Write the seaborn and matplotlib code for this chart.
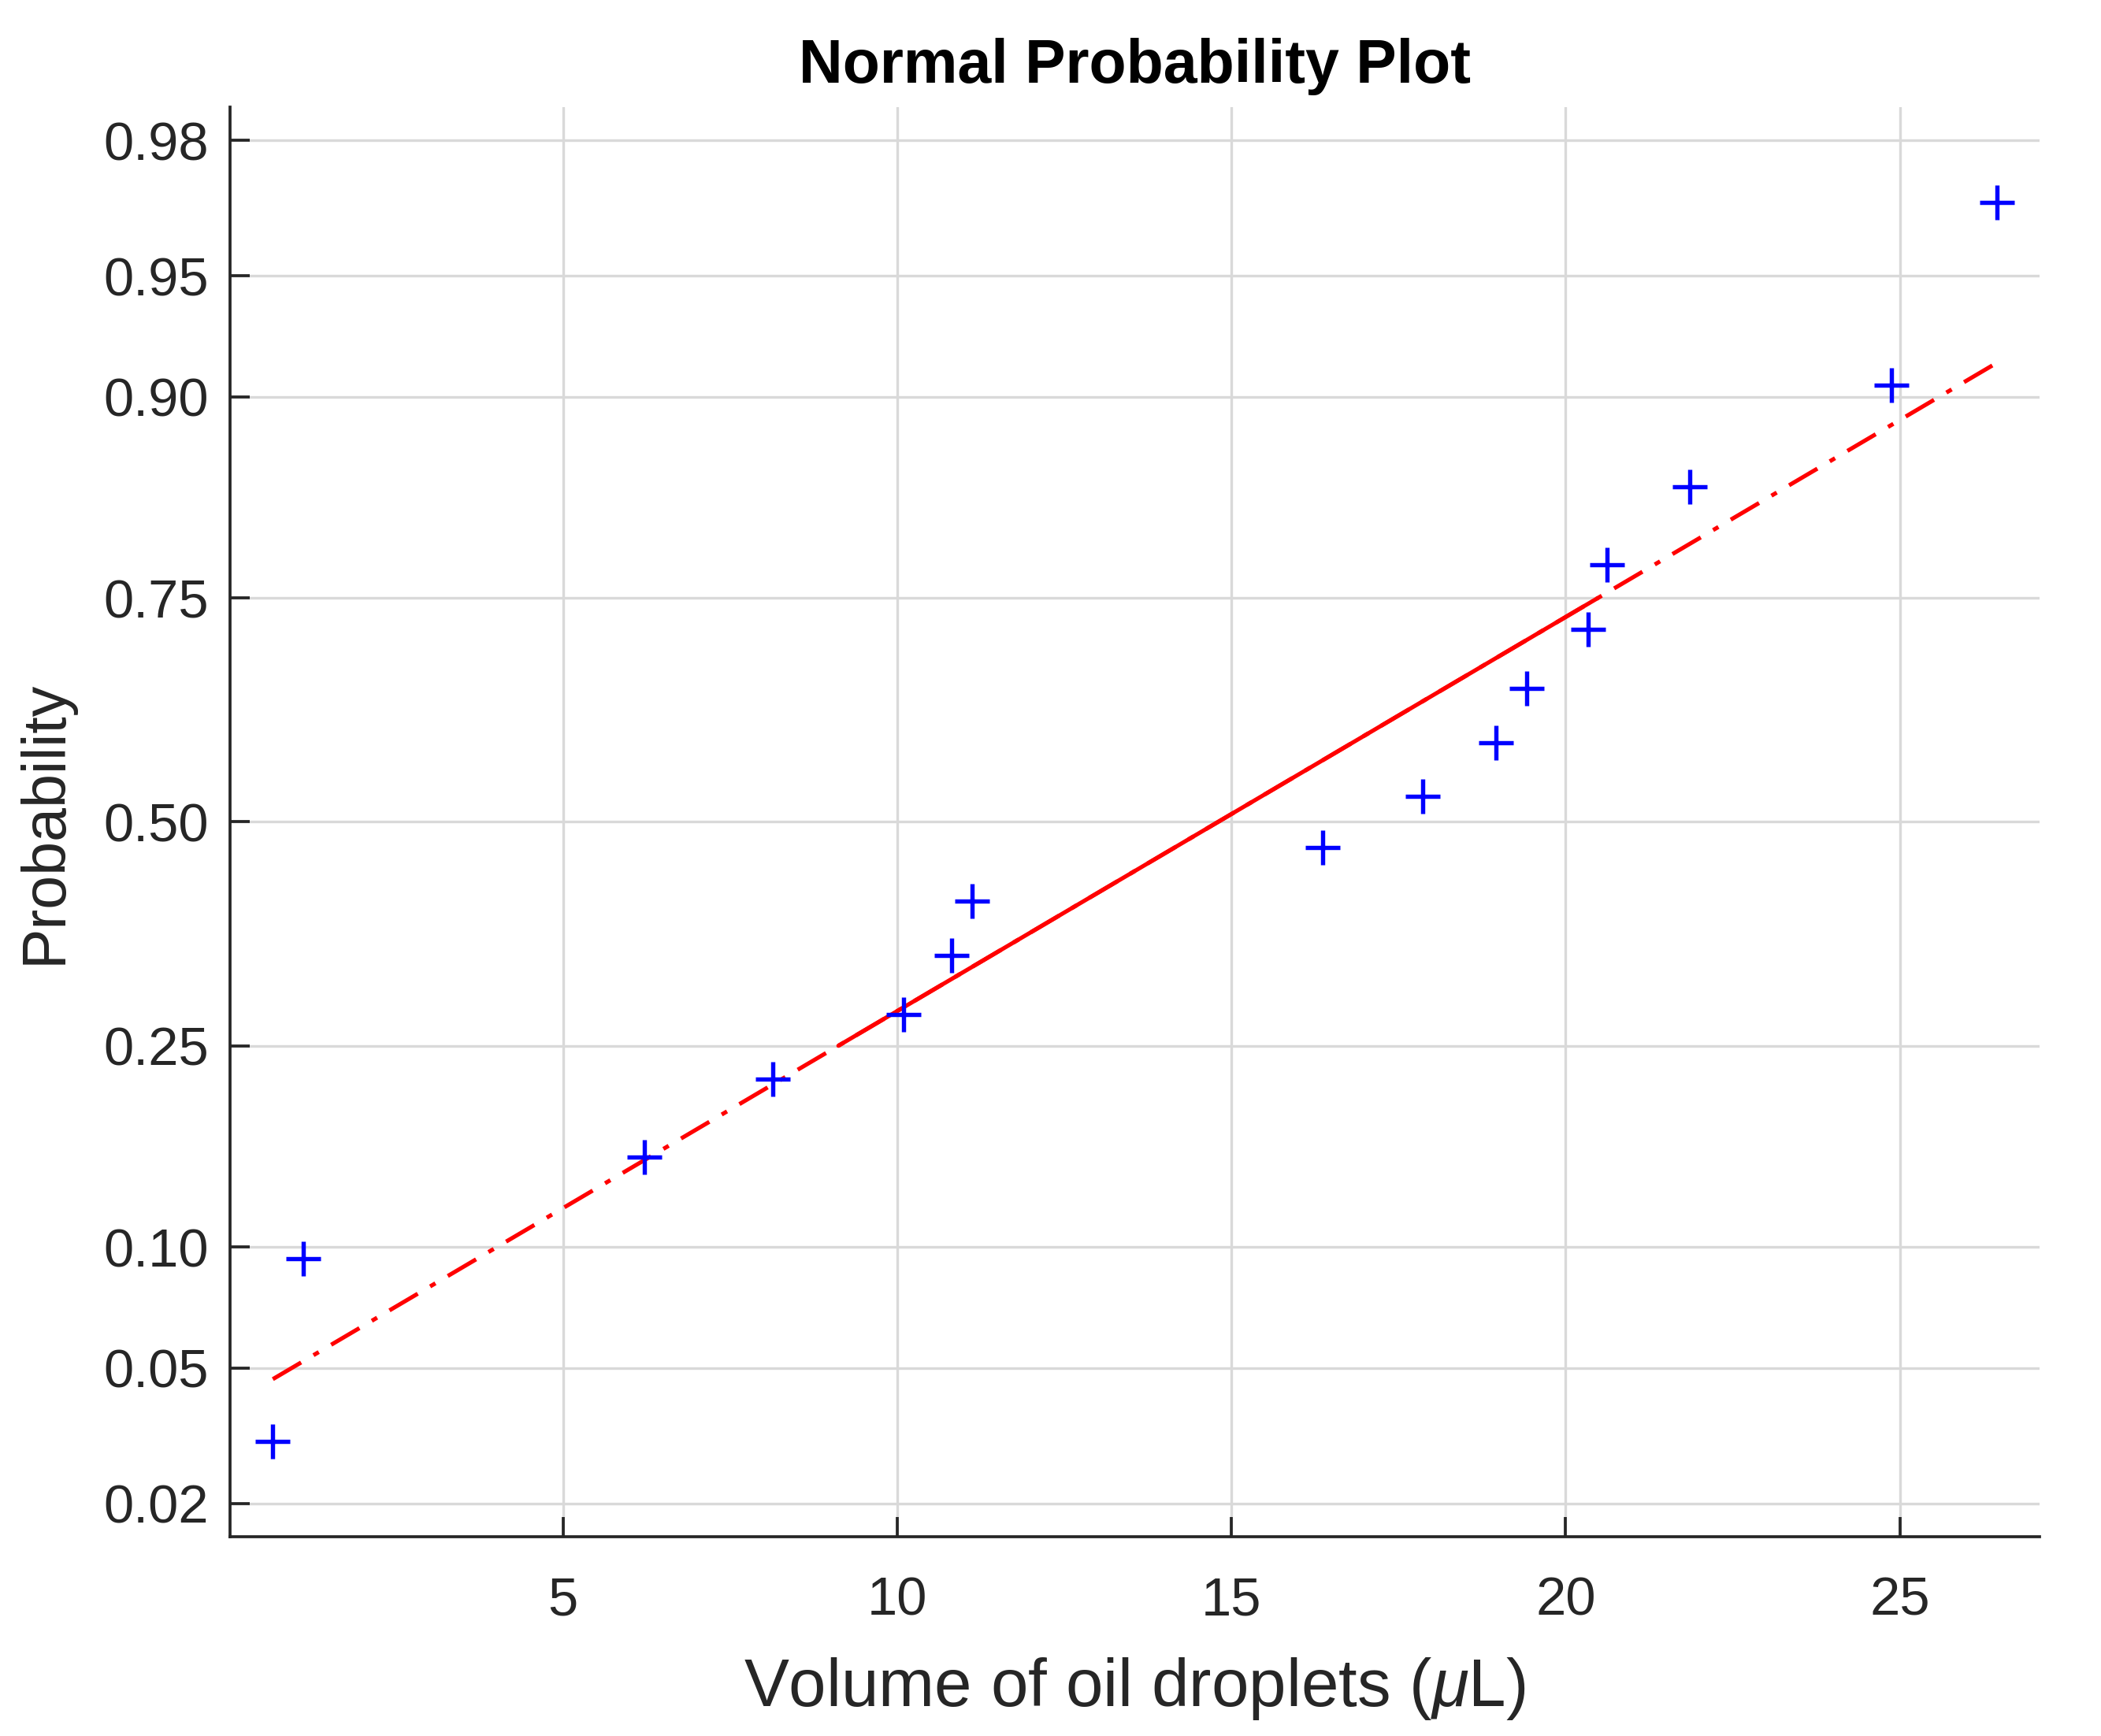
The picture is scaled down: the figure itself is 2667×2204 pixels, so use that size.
import numpy as np
import matplotlib
matplotlib.use("Agg")
import matplotlib.pyplot as plt
import seaborn as sns
from statistics import NormalDist

# droplet volumes (sorted), uL
volume = [0.66, 1.12, 6.22, 8.14, 10.10, 10.82, 11.12, 16.36,
          17.86, 18.96, 19.42, 20.34, 20.62, 21.86, 24.87, 26.45]
# plotting positions of the points on the probability axis
prob = [0.031, 0.094, 0.156, 0.219, 0.281, 0.344, 0.406, 0.469,
        0.531, 0.594, 0.656, 0.719, 0.781, 0.844, 0.906, 0.969]

ytick_prob = [0.02, 0.05, 0.10, 0.25, 0.50, 0.75, 0.90, 0.95, 0.98]
xticks = [5, 10, 15, 20, 25]
ylim_prob = (0.015625, 0.984375)
xlim = (0.02, 27.09)

nd = NormalDist()
z = [nd.inv_cdf(p) for p in prob]

# reference line through the quartiles (solid between them, dash-dot outside)
q1, q3 = np.percentile(volume, [25, 75], method="hazen")
z1, z3 = nd.inv_cdf(0.25), nd.inv_cdf(0.75)
slope = (z3 - z1) / (q3 - q1)
xa, xb = min(volume), max(volume)
line_z = lambda x: z1 + slope * (x - q1)

sns.set_theme(style="ticks")
plt.rcParams["font.family"] = ["Liberation Sans", "DejaVu Sans"]
plt.rcParams["mathtext.fontset"] = "custom"
plt.rcParams["mathtext.it"] = "Liberation Sans:italic"
plt.rcParams["mathtext.rm"] = "Liberation Sans"

ink = "#262626"
fig = plt.figure(figsize=(2667 / 300, 2204 / 300), dpi=300)
ax = fig.add_axes([0.1095, 0.1148, 0.9708 - 0.1095, 0.9383 - 0.1148])

ax.plot([xa, xb], [line_z(xa), line_z(xb)], color="red", lw=1.25,
        linestyle=(0, (8, 3.5, 1.5, 3.5)), zorder=2)
ax.plot([q1, q3], [line_z(q1), line_z(q3)], color="red", lw=1.25,
        linestyle="-", zorder=3)

sns.scatterplot(x=volume, y=z, marker="+", s=115, color="blue",
                linewidth=1.3, ax=ax, zorder=4)

ax.set_xlim(*xlim)
ax.set_ylim(nd.inv_cdf(ylim_prob[0]), nd.inv_cdf(ylim_prob[1]))
ax.set_xticks(xticks)
ax.set_xticklabels([str(t) for t in xticks])
ax.set_yticks([nd.inv_cdf(p) for p in ytick_prob])
ax.set_yticklabels([f"{p:.2f}" for p in ytick_prob])

ax.grid(True, color="#d9d9d9", lw=0.8)
ax.set_axisbelow(True)
sns.despine(ax=ax)
for s in ["left", "bottom"]:
    ax.spines[s].set_color(ink)
    ax.spines[s].set_linewidth(0.9)
ax.tick_params(axis="both", direction="in", length=6, width=0.9,
               color=ink, labelcolor=ink, labelsize=16.5)
ax.tick_params(axis="x", pad=12)
ax.tick_params(axis="y", pad=6.5)

ax.set_xlabel(r"Volume of oil droplets ($\mu$L)", fontsize=20.5,
              color=ink, labelpad=9)
ax.set_ylabel("Probability", fontsize=18.5, color=ink, labelpad=9)
ax.set_title("Normal Probability Plot", fontsize=18.5, fontweight="bold",
             color="black", pad=7.5)

fig.savefig("out.png", dpi=300)
